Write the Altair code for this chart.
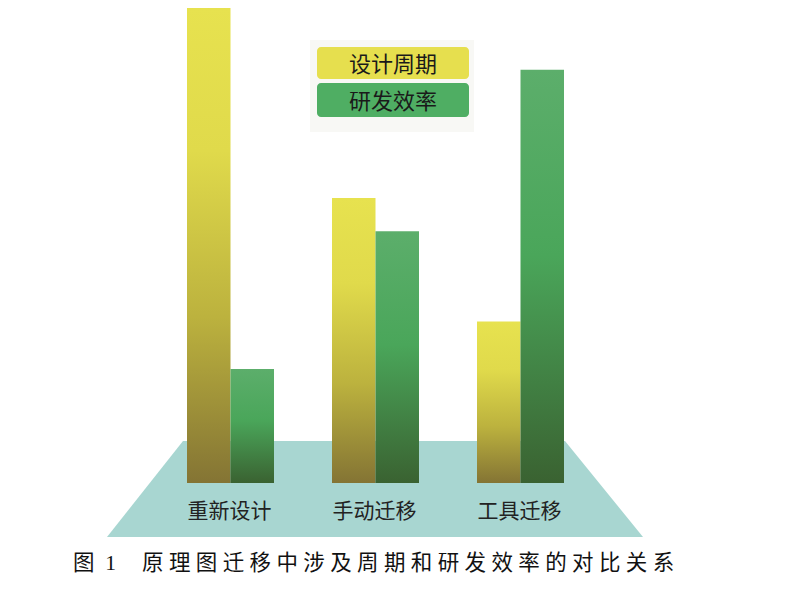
import altair as alt
import pandas as pd

# ---- data ----
categories = ["重新设计", "手动迁移", "工具迁移"]
series = ["设计周期", "研发效率"]
cycle_values = [100, 60, 34]        # 设计周期
efficiency_values = [24, 53, 87]    # 研发效率
caption_fig = "图\u20021"
caption_text = "原理图迁移中涉及周期和研发效率的对比关系"

# floor (decorative trapezoid, page pixel coordinates)
floor_x = [107, 183, 565, 643]
floor_top = [537, 441, 441, 537]
floor_bottom = [537, 537, 537, 537]

rows = []
for c, a, b in zip(categories, cycle_values, efficiency_values):
    rows.append({"cat": c, "series": series[0], "value": a})
    rows.append({"cat": c, "series": series[1], "value": b})
df = pd.DataFrame(rows)

W, H = 784, 475
FONT = "Liberation Serif, Noto Sans CJK SC"

x_band = alt.X("cat:N", sort=categories, axis=None,
               scale=alt.Scale(domain=categories, range=[150, 585],
                               paddingInner=0.4, paddingOuter=0.2))
x_off = alt.XOffset("series:N", sort=series,
                    scale=alt.Scale(domain=series, paddingInner=0, paddingOuter=0))
y_val = alt.Y("value:Q", axis=None,
              scale=alt.Scale(domain=[0, 100], zero=True, nice=False))

yellow_grad = alt.Gradient(
    gradient="linear", x1=0, x2=0, y1=0, y2=1,
    stops=[alt.GradientStop(color="#e7e24f", offset=0),
           alt.GradientStop(color="#e0da4b", offset=0.3),
           alt.GradientStop(color="#bcb23e", offset=0.65),
           alt.GradientStop(color="#847434", offset=1)])
green_grad = alt.Gradient(
    gradient="linear", x1=0, x2=0, y1=0, y2=1,
    stops=[alt.GradientStop(color="#5cae6b", offset=0),
           alt.GradientStop(color="#4aa65a", offset=0.45),
           alt.GradientStop(color="#3a6231", offset=1)])

floor_df = pd.DataFrame({"px": floor_x, "top": floor_top, "bot": floor_bottom})
floor = alt.Chart(floor_df).mark_area(color="#a8d6d1", opacity=1).encode(
    x=alt.X("px:Q", axis=None, scale=alt.Scale(domain=[8, 8 + W], zero=False, nice=False)),
    y=alt.Y("top:Q", axis=None, scale=alt.Scale(domain=[8, 8 + H], reverse=True, zero=False, nice=False)),
    y2="bot:Q",
)

bars_y = alt.Chart(df).transform_filter(alt.datum.series == series[0]).mark_bar(
    color=yellow_grad, clip=False).encode(x=x_band, xOffset=x_off, y=y_val)
bars_g = alt.Chart(df).transform_filter(alt.datum.series == series[1]).mark_bar(
    color=green_grad, clip=False).encode(x=x_band, xOffset=x_off, y=y_val)

cat_labels = alt.Chart(pd.DataFrame({"cat": categories})).mark_text(
    font=FONT, fontSize=21, color="#222222", baseline="middle", align="center", dx=-1
).encode(x=x_band, y=alt.value(504), text="cat:N")

# legend
legend_bg = alt.Chart(pd.DataFrame({"a": [0]})).mark_rect(color="#f8f8f5").encode(
    x=alt.value(302), x2=alt.value(466), y=alt.value(32), y2=alt.value(124))
legend_colors = ["#e6df4e", "#4fae63"]
legend_tops = [39, 75]
legend_bottoms = [71, 109]
legend_layers = [legend_bg]
for s, col, t, b in zip(series, legend_colors, legend_tops, legend_bottoms):
    legend_layers.append(
        alt.Chart(pd.DataFrame({"s": [s]})).mark_rect(color=col, cornerRadius=4).encode(
            x=alt.value(309), x2=alt.value(461), y=alt.value(t), y2=alt.value(b)))
    legend_layers.append(
        alt.Chart(pd.DataFrame({"s": [s]})).mark_text(
            font=FONT, fontSize=22, color="#1a1a1a", align="center", baseline="middle"
        ).encode(x=alt.value(385), y=alt.value((t + b) / 2 + 2), text="s:N"))

spaced = "\u2005".join(list(caption_text))
cap1 = alt.Chart(pd.DataFrame({"t": [caption_fig]})).mark_text(
    font=FONT, fontSize=21.5, color="#111111", align="left", baseline="middle"
).encode(x=alt.value(65), y=alt.value(556), text="t:N")
cap2 = alt.Chart(pd.DataFrame({"t": [spaced]})).mark_text(
    font=FONT, fontSize=21.5, color="#111111", align="left", baseline="middle"
).encode(x=alt.value(134), y=alt.value(556), text="t:N")

chart = alt.layer(floor, bars_y, bars_g, cat_labels, *legend_layers, cap1, cap2).resolve_scale(
    x="independent", y="independent"
).properties(
    width=W, height=H,
    autosize=alt.AutoSizeParams(type="none"),
    padding={"left": 0, "top": 0, "right": 0, "bottom": 109},
).configure_view(stroke=None)

chart.save("out.html", embed_options={"renderer": "svg", "actions": False})
